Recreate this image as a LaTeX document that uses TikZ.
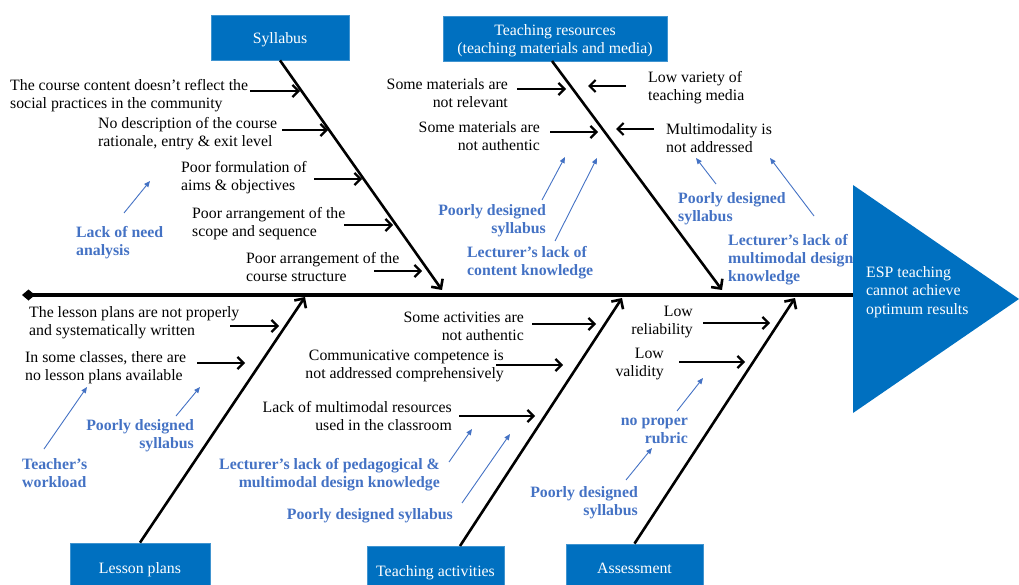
\documentclass[tikz,border=0pt]{standalone}
\usepackage{fontspec}
\setmainfont{Liberation Serif}
\usetikzlibrary{arrows.meta}
\definecolor{boxblue}{HTML}{0070C0}
\definecolor{txtblue}{HTML}{4472C4}
\begin{document}
\begin{tikzpicture}[x=1pt,y=-1pt,
  every node/.style={font=\fontsize{15.8}{18}\selectfont, inner sep=0pt},
  cat/.style={fill=boxblue, text=white, align=center, draw=boxblue!75!white, line width=0.8pt, text height=13pt, text depth=0pt},
  catbox/.style={fill=boxblue, draw=boxblue!75!white, line width=0.8pt},
  cause/.style={align=left, anchor=west, yshift=-2pt},
  causer/.style={align=right, anchor=east, yshift=-2pt},
  why/.style={text=txtblue, font=\fontsize{15.8}{18}\selectfont\bfseries, align=left, anchor=west, yshift=-2pt},
  whyr/.style={why, align=right, anchor=east},
  bone/.style={line width=2.6pt, -{Straight Barb[length=7pt,width=14pt]}},
  sub/.style={line width=2.2pt, -{Straight Barb[length=6pt,width=12pt]}},
  hint/.style={line width=0.9pt, draw=txtblue, -{Triangle[length=6pt,width=5pt]}},
]
\useasboundingbox (0,0) rectangle (1019,585);

% spine and head
\coordinate (tail) at (22,295);
\coordinate (spineend) at (855,295);
\draw[line width=4pt, {Diamond[length=13pt,width=11pt]}-] (tail) -- (spineend);
\fill[boxblue] (853,185) -- (853,413) -- (1019,299) -- cycle;
\node[align=left, anchor=west, text=white, yshift=-2pt, font=\fontsize{15.8}{18.5}\selectfont] (effect) at (866,290) {ESP teaching\\cannot achieve\\optimum results};

% category boxes
\node[cat, minimum width=138pt, minimum height=45pt] (syl) at (280,37.5) {Syllabus};
\node[catbox, minimum width=224pt, minimum height=45pt] (res) at (555,38.5) {};
\node[text=white, align=center] (restext) at (555,40.5) {Teaching resources\\(teaching materials and media)};
\node[cat, minimum width=140pt, minimum height=48pt] (les) at (140,567) {Lesson plans};
\node[cat, minimum width=137pt, minimum height=48pt] (act) at (435.5,570) {Teaching activities};
\node[cat, minimum width=137pt, minimum height=46pt] (ass) at (634.5,567) {Assessment};

% bone end points on the spine
\coordinate (sylend) at (442,290);
\coordinate (resend) at (722,290);
\coordinate (lesend) at (305,297);
\coordinate (actend) at (622,298);
\coordinate (assend) at (795,298);
\coordinate (resstart) at (552,61);
\coordinate (actstart) at (460,546);

\draw[bone] (syl.south) -- (sylend);
\draw[bone] (resstart) -- (resend);
\draw[bone] (les.north) -- (lesend);
\draw[bone] (actstart) -- (actend);
\draw[bone] (ass.north) -- (assend);

% ---- Syllabus causes
\node[cause] (t1) at (10,93.5) {The course content doesn’t reflect the\\social practices in the community};
\node[cause] (t2) at (98,132) {No description of the course\\rationale, entry \& exit level};
\node[cause] (t3) at (181,176) {Poor formulation of\\aims \& objectives};
\node[cause] (t4) at (192,222) {Poor arrangement of the\\scope and sequence};
\node[cause] (t5) at (246,265) {Poor arrangement of the\\course structure};
\coordinate (t1a) at (250,91);  \coordinate (t1b) at (300,91);
\coordinate (t2a) at (282,130); \coordinate (t2b) at (328,130);
\coordinate (t3a) at (314,179); \coordinate (t3b) at (362,179);
\coordinate (t4a) at (344,225); \coordinate (t4b) at (393,225);
\coordinate (t5a) at (374,271); \coordinate (t5b) at (422,271);
\draw[sub] (t1a) -- (t1b);
\draw[sub] (t2a) -- (t2b);
\draw[sub] (t3a) -- (t3b);
\draw[sub] (t4a) -- (t4b);
\draw[sub] (t5a) -- (t5b);
\node[why] (w1) at (76,241) {Lack of need\\analysis};
\coordinate (w1a) at (124,213); \coordinate (w1b) at (150,181);
\draw[hint] (w1a) -- (w1b);

% ---- Teaching resources causes
\node[causer] (r1) at (508,91) {Some materials are\\not relevant};
\node[causer] (r2) at (540,134) {Some materials are\\not authentic};
\node[cause] (r3) at (648,86) {Low variety of\\teaching media};
\node[cause] (r4) at (666,136) {Multimodality is\\not addressed};
\coordinate (r1a) at (517,89);  \coordinate (r1b) at (566,89);
\coordinate (r2a) at (550,132); \coordinate (r2b) at (598,132);
\coordinate (r3a) at (626,86);  \coordinate (r3b) at (588,86);
\coordinate (r4a) at (654,129); \coordinate (r4b) at (616,129);
\draw[sub] (r1a) -- (r1b);
\draw[sub] (r2a) -- (r2b);
\draw[sub] (r3a) -- (r3b);
\draw[sub] (r4a) -- (r4b);
\node[whyr] (w2) at (546,219) {Poorly designed\\syllabus};
\node[why] (w3) at (467,261) {Lecturer’s lack of\\content knowledge};
\node[why] (w4) at (678,207) {Poorly designed\\syllabus};
\node[why] (w5) at (728,258) {Lecturer’s lack of\\multimodal design\\knowledge};
\coordinate (w2a) at (542,200); \coordinate (w2b) at (565,157);
\coordinate (w3a) at (555,241); \coordinate (w3b) at (597,158);
\coordinate (w4a) at (716,184); \coordinate (w4b) at (696,158);
\coordinate (w5a) at (814,216); \coordinate (w5b) at (770,158);
\draw[hint] (w2a) -- (w2b);
\draw[hint] (w3a) -- (w3b);
\draw[hint] (w4a) -- (w4b);
\draw[hint] (w5a) -- (w5b);

% ---- Lesson plans causes
\node[cause] (l1) at (29,321) {The lesson plans are not properly\\and systematically written};
\node[cause] (l2) at (25,366) {In some classes, there are\\no lesson plans available};
\coordinate (l1a) at (230,326); \coordinate (l1b) at (279,326);
\coordinate (l2a) at (197,363); \coordinate (l2b) at (245,363);
\draw[sub] (l1a) -- (l1b);
\draw[sub] (l2a) -- (l2b);
\node[whyr] (w6) at (194,434) {Poorly designed\\syllabus};
\node[why] (w7) at (22,471) {Teacher’s\\workload};
\coordinate (w6a) at (176,416); \coordinate (w6b) at (200,387);
\coordinate (w7a) at (44,449);  \coordinate (w7b) at (87,387);
\draw[hint] (w6a) -- (w6b);
\draw[hint] (w7a) -- (w7b);

% ---- Teaching activities causes
\node[causer] (a1) at (524,324) {Some activities are\\not authentic};
\node[causer] (a2) at (504,364) {Communicative competence is\\not addressed comprehensively};
\node[causer] (a3) at (452,414) {Lack of multimodal resources\\used in the classroom};
\coordinate (a1a) at (532,324); \coordinate (a1b) at (596,324);
\coordinate (a2a) at (496,365); \coordinate (a2b) at (563,365);
\coordinate (a3a) at (459,416); \coordinate (a3b) at (535,416);
\draw[sub] (a1a) -- (a1b);
\draw[sub] (a2a) -- (a2b);
\draw[sub] (a3a) -- (a3b);
\node[whyr] (w8) at (440,473) {Lecturer’s lack of pedagogical \&\\multimodal design knowledge};
\node[whyr] (w9) at (453,514) {Poorly designed syllabus};
\coordinate (w8a) at (449,462); \coordinate (w8b) at (472,429);
\coordinate (w9a) at (462,503); \coordinate (w9b) at (510,434);
\draw[hint] (w8a) -- (w8b);
\draw[hint] (w9a) -- (w9b);

% ---- Assessment causes
\node[causer] (s1) at (693,320) {Low\\reliability};
\node[causer] (s2) at (664,362) {Low\\validity};
\coordinate (s1a) at (703,323); \coordinate (s1b) at (770,323);
\coordinate (s2a) at (679,362); \coordinate (s2b) at (745,362);
\draw[sub] (s1a) -- (s1b);
\draw[sub] (s2a) -- (s2b);
\node[whyr] (w10) at (688,429) {no proper\\rubric};
\node[whyr] (w11) at (638,501) {Poorly designed\\syllabus};
\coordinate (w10a) at (677,411); \coordinate (w10b) at (703,378);
\coordinate (w11a) at (626,480); \coordinate (w11b) at (652,448);
\draw[hint] (w10a) -- (w10b);
\draw[hint] (w11a) -- (w11b);
\end{tikzpicture}
\end{document}
